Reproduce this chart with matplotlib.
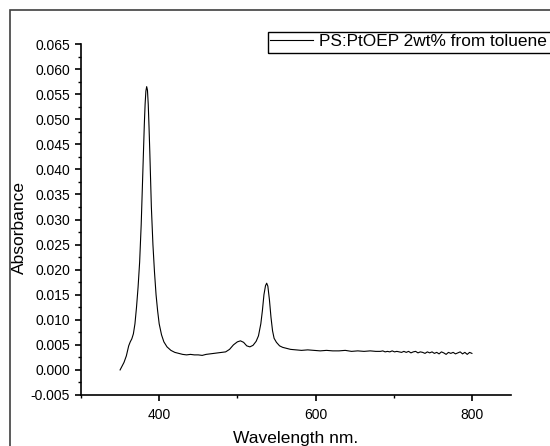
import matplotlib
matplotlib.use("Agg")
import matplotlib.pyplot as plt
from matplotlib.patches import Rectangle
from matplotlib.ticker import MultipleLocator

plt.rcParams["font.family"] = ["Liberation Sans", "DejaVu Sans"]

# UV-vis absorbance of PS:PtOEP film
wavelength = [
    350, 352, 355, 358, 361, 363, 365, 367, 369, 371, 373, 375, 377, 379, 381,
    382, 383, 384, 385, 386, 387, 388, 389, 390, 392, 394, 396, 398, 400, 403,
    406, 410, 415, 420, 425, 430, 435, 440, 445, 450, 455, 460, 465, 470, 475,
    480, 485, 490, 495, 500, 504, 508, 512, 516, 520, 524, 527, 530, 532, 534,
    536, 537.5, 539, 541, 543, 545, 547, 550, 554, 558, 563, 568, 575, 582,
    590, 598, 606, 614, 622, 630, 638, 646, 654, 662, 670, 677, 683, 686, 689,
    692, 695, 698, 701, 704, 707, 710, 713, 716, 719, 722, 725, 728, 731, 734,
    737, 740, 743, 746, 749, 752, 755, 758, 761, 764, 767, 770, 773, 776, 779,
    782, 785, 788, 791, 794, 797, 800,
]
absorbance = [
    0.0000, 0.0006, 0.0015, 0.0028, 0.0048, 0.0056, 0.0062, 0.0072, 0.0092,
    0.0125, 0.0165, 0.0215, 0.0290, 0.0390, 0.0490, 0.0530, 0.0556, 0.0565,
    0.0558, 0.0530, 0.0485, 0.0435, 0.0380, 0.0325, 0.0250, 0.0195, 0.0150,
    0.0118, 0.0092, 0.0070, 0.0056, 0.0046, 0.0039, 0.0035, 0.0033, 0.0031,
    0.0030, 0.0031, 0.0030, 0.0030, 0.0029, 0.0031, 0.0032, 0.0033, 0.0034,
    0.0035, 0.0036, 0.0041, 0.0050, 0.0056, 0.0058, 0.0055, 0.0048, 0.0046,
    0.0049, 0.0057, 0.0068, 0.0092, 0.0118, 0.0150, 0.0168, 0.0173, 0.0167,
    0.0140, 0.0105, 0.0078, 0.0063, 0.0055, 0.0048, 0.0045, 0.0043, 0.0041,
    0.0040, 0.0039, 0.0040, 0.0039, 0.0038, 0.0039, 0.0038, 0.0038, 0.0039,
    0.0037, 0.0038, 0.0037, 0.0038, 0.0037, 0.0037, 0.0038, 0.0036, 0.0037,
    0.0036, 0.0038, 0.0036, 0.0037, 0.0036, 0.0035, 0.0037, 0.0035, 0.0037,
    0.0034, 0.0036, 0.0037, 0.0034, 0.0036, 0.0035, 0.0033, 0.0036, 0.0034,
    0.0036, 0.0033, 0.0035, 0.0032, 0.0036, 0.0034, 0.0031, 0.0035, 0.0033,
    0.0035, 0.0032, 0.0034, 0.0036, 0.0032, 0.0035, 0.0031, 0.0035, 0.0033,
]

fig = plt.figure(figsize=(5.5, 4.46), dpi=100)
ax = fig.add_axes([81 / 550, 1 - 395 / 446, 430 / 550, 351 / 446])

ax.plot(wavelength, absorbance, color="black", linewidth=0.8,
        label="PS:PtOEP 2wt% from toluene")

ax.set_xlim(300, 850)
ax.set_ylim(-0.005, 0.065)
ax.xaxis.set_major_locator(MultipleLocator(200))
ax.xaxis.set_minor_locator(MultipleLocator(100))
ax.yaxis.set_major_locator(MultipleLocator(0.005))
ax.yaxis.set_minor_locator(MultipleLocator(0.0025))
ax.yaxis.set_major_formatter(plt.FormatStrFormatter("%.3f"))

for side in ("top", "right"):
    ax.spines[side].set_visible(False)
for side in ("left", "bottom"):
    ax.spines[side].set_linewidth(1.2)

ax.tick_params(which="major", direction="out", length=4.5, width=1.2,
               labelsize=10, pad=3.5)
ax.tick_params(which="minor", direction="out", length=2.5, width=1.0)
ax.tick_params(axis="x", which="major", pad=5)

ax.set_xlabel("Wavelength nm.", fontsize=12.5, labelpad=6)
ax.set_ylabel("Absorbance", fontsize=12.5)
ax.yaxis.set_label_coords(-0.125, 0.476)

# legend without its own frame; the frame is drawn below so it runs off the right edge
ax.legend(loc="upper left", bbox_to_anchor=(268 / 550, 1 - 32 / 446),
          bbox_transform=fig.transFigure, fontsize=12.4, frameon=False,
          borderpad=0.12, handlelength=2.5, handletextpad=0.35,
          borderaxespad=0)
fig.patches.append(Rectangle((268 / 550, 1 - 53 / 446), 1.0, 21 / 446,
                             transform=fig.transFigure, fill=False,
                             edgecolor="black", linewidth=1.0))

# outer frame of the original graph page, right and bottom edges fall outside
fig.patches.append(Rectangle((10 / 550, -0.5), 2.0, 1.5 - 10 / 446,
                             transform=fig.transFigure, fill=False,
                             edgecolor="#404040", linewidth=1.2))

fig.savefig("out.png", dpi=100)
